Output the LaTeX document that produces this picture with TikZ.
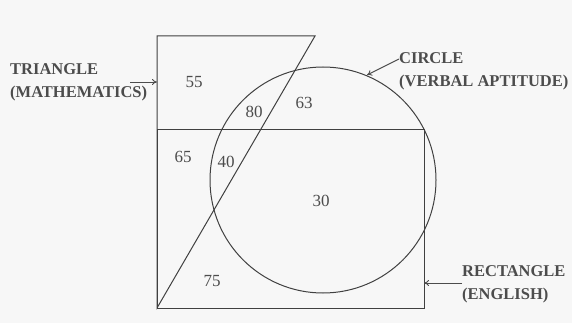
\documentclass[tikz,border=0pt]{standalone}
\usepackage{fontspec}
\setmainfont{Liberation Serif}
\usetikzlibrary{arrows.meta, positioning, calc}

\begin{document}
\begin{tikzpicture}[x=1pt, y=-1pt,
    every node/.style={font=\bfseries\fontsize{16.5}{23}\selectfont, text=black!70, inner sep=0pt},
    shape line/.style={draw=black!75, line width=1pt},
    pointer/.style={draw=black!70, line width=0.9pt, -{To[length=5pt, width=6pt]}},
    region/.style={font=\fontsize{17}{19}\selectfont, text=black!70}]
    \useasboundingbox[fill=black!3] (0,0) rectangle (572,323);
    % Triangle (Mathematics)
    \draw[shape line] (157,36) -- (315,36) -- (157,308) -- cycle;
    % Rectangle (English)
    \draw[shape line] (157,130) rectangle (424,308);
    % Circle (Verbal aptitude)
    \draw[shape line] (323,180) circle[radius=113];
    % Numbers in the regions
    \node[region] (n55) at (194,82) {55};
    \node[region] (n80) at (254,112) {80};
    \node[region] (n63) at (304,103) {63};
    \node[region] (n40) at (226,162) {40};
    \node[region] (n65) at (183,157) {65};
    \node[region] (n30) at (321,201) {30};
    \node[region] (n75) at (212,281) {75};
    % Labels
    \node[anchor=west, align=left] (triLabel) at (10,82) {TRIANGLE\\(MATHEMATICS)};
    \node[anchor=west, align=left] (cirLabel) at (399,71) {CIRCLE\\(VERBAL APTITUDE)};
    \node[anchor=west, align=left] (recLabel) at (462,284) {RECTANGLE\\(ENGLISH)};
    % Arrows
    \coordinate (triTail) at (130,82);
    \coordinate (triTip) at (157,82);
    \coordinate (cirTail) at (399,59);
    \coordinate (cirTip) at (367,75);
    \coordinate (recTail) at (462,283);
    \coordinate (recTip) at (424,283);
    \draw[pointer] (triTail) -- (triTip);
    \draw[pointer] (cirTail) -- (cirTip);
    \draw[pointer] (recTail) -- (recTip);
\end{tikzpicture}
\end{document}
